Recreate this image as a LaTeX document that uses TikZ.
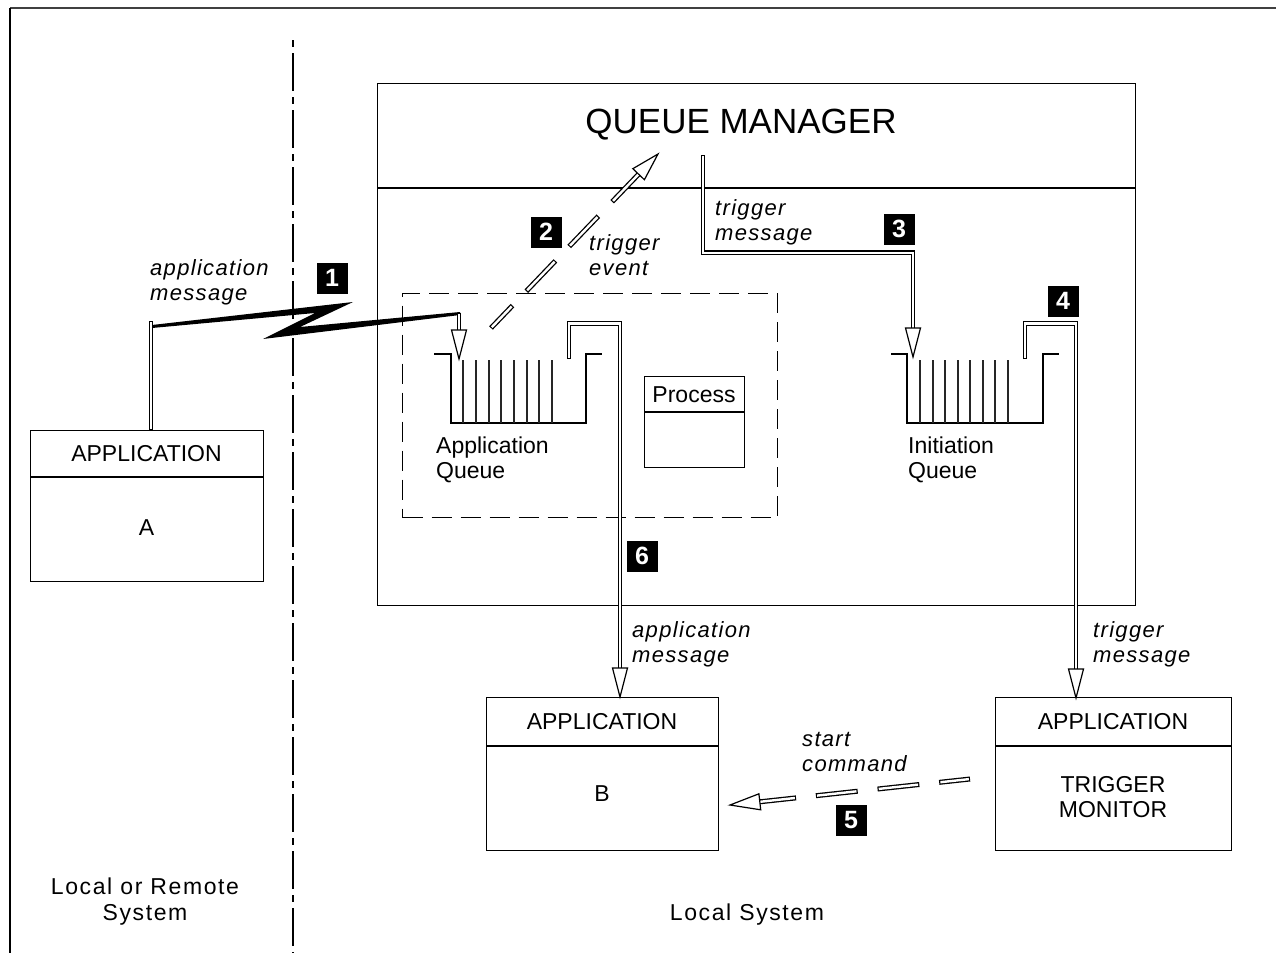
\documentclass[tikz,border=0pt]{standalone}
\usepackage{fontspec}
\setmainfont{Liberation Sans}
\newfontfamily\slfont{Liberation Sans}[LetterSpace=6]
\newfontfamily\widefont{Liberation Sans}[LetterSpace=7]
\usetikzlibrary{calc}

\tikzset{
  box/.style={draw, line width=1.4pt},
  plain/.style={font=\fontsize{23}{25}\selectfont, inner sep=0pt},
  wide/.style={font=\widefont\fontsize{23}{26}\selectfont, inner sep=0pt, align=center, anchor=base},
  lbl/.style={font=\slfont\itshape\fontsize{22}{25}\selectfont, align=left, inner sep=0pt, anchor=base west},
  badge/.style={fill=black, text=white, font=\bfseries\fontsize{25}{25}\selectfont, minimum size=31pt, inner sep=0pt},
  wall/.style={line width=1.5pt, line join=miter},
  slot/.style={line width=1.2pt, draw=black!85},
  pipe/.style={line width=4.6pt, line join=miter,
    postaction={draw=white, line width=2.2pt, shorten <=1.2pt, shorten >=1.2pt}},
  dpipe/.style={line width=5pt, dash pattern=on 42pt off 20pt, dash phase=11pt,
    postaction={draw=white, line width=2.4pt, dash pattern=on 39.6pt off 22.4pt,
      dash phase=11pt, shorten <=1.2pt}},
  head/.style={draw, fill=white, line width=1.2pt, line join=miter},
}
\newcommand\headdown[1]{\draw[head] #1 -- ++(-7.5,-29) -- ++(15,0) -- cycle;}

\begin{document}
\begin{tikzpicture}[x=1pt,y=-1pt]
\useasboundingbox (0,0) rectangle (1276,953);

% outer frame and system divider
\draw[line width=2.5pt, draw=black!75] (1276,8) -- (10,8);
\draw[line width=1.5pt] (10,8) -- (10,953);
\draw[line width=1.6pt, dash pattern=on 7pt off 6pt on 38pt off 6pt] (293,40) -- (293,953);

% queue manager
\node[box, anchor=north west, minimum width=758pt, minimum height=522pt] (qm) at (377,83) {};
\draw[box] (qm.west |- 0,188) -- (qm.east |- 0,188);
\node[plain, font=\fontsize{35}{35}\selectfont] (qmtitle) at (741,125) {QUEUE MANAGER};

% group holding the application queue and its process definition
\node[draw, line width=1.2pt, dash pattern=on 20pt off 9pt, anchor=north west,
      minimum width=375pt, minimum height=224pt] (grp) at (402,293) {};

% application queue
\draw[wall] (434,354) -- (451,354) -- (451,423) -- (586,423) -- (586,354) -- (602,354);
\foreach \x in {463,476,489,501,514,527,539,552} \draw[slot] (\x,360) -- (\x,423);
\node[plain, align=left, anchor=base west] (aqlbl) at (436,478) {Application\\Queue};

% initiation queue
\draw[wall] (891,354) -- (907,354) -- (907,423) -- (1043,423) -- (1043,354) -- (1059,354);
\foreach \x in {920,933,945,958,970,983,995,1008} \draw[slot] (\x,360) -- (\x,423);
\node[plain, align=left, anchor=base west] (iqlbl) at (908,478) {Initiation\\Queue};

% process definition
\node[box, anchor=north west, minimum width=100pt, minimum height=91pt] (proc) at (644,376) {};
\draw[box] (proc.west |- 0,412) -- (proc.east |- 0,412);
\node[plain] (proclbl) at (694,395) {Process};

% application A
\node[box, anchor=north west, minimum width=233pt, minimum height=151pt] (appA) at (30,430) {};
\draw[box] (appA.west |- 0,477) -- (appA.east |- 0,477);
\node[plain] (appAh) at (146.5,454) {APPLICATION};
\node[plain] (appAn) at (146.5,528) {A};

% application B
\node[box, anchor=north west, minimum width=232pt, minimum height=153pt] (appB) at (486,697) {};
\draw[box] (appB.west |- 0,746) -- (appB.east |- 0,746);
\node[plain] (appBh) at (602,722) {APPLICATION};
\node[plain] (appBn) at (602,794) {B};

% trigger monitor
\node[box, anchor=north west, minimum width=236pt, minimum height=153pt] (tm) at (995,697) {};
\draw[box] (tm.west |- 0,746) -- (tm.east |- 0,746);
\node[plain] (tmh) at (1113,722) {APPLICATION};
\node[plain, align=center] (tmn) at (1113,797) {TRIGGER\\MONITOR};

% (1) message from application A over the link
\coordinate (aTop) at (151,321);
\draw[pipe] (aTop) -- (aTop |- appA.north);
\fill (152,325) -- (353,302) -- (300,327) -- (460,312) -- (460,315)
      -- (263,339) -- (315,313) -- (152,328) -- cycle;
\coordinate (aqIn) at (459,313);
\coordinate (aqTip) at (459,359);
\draw[pipe] (aqIn) -- (459,332);
\headdown{(aqTip)}

% (2) trigger event
\coordinate (evStart) at (491,328);
\coordinate (evBase) at (638.6,174.2);
\coordinate (evTip) at (658,154);
\draw[dpipe] (evStart) -- (evBase);
\draw[head] (644.4,179.7) -- (evTip) -- (632.8,168.7) -- cycle;

% (3) trigger message to the initiation queue
\coordinate (tmsgOut) at (703,155);
\coordinate (iqTip) at (913,357);
\draw[pipe] (tmsgOut) -- (703,252.7) -- (913,252.7) -- (913,330);
\headdown{(iqTip)}

% (6) application message to application B
\coordinate (aqOut) at (569,359);
\coordinate (bTip) at (620,697);
\draw[pipe] (aqOut) -- (569,323.5) -- (620,323.5) -- (620,670);
\headdown{(bTip)}

% (4) trigger message to the trigger monitor
\coordinate (iqOut) at (1025,359);
\coordinate (tmTip) at (1076,698);
\draw[pipe] (iqOut) -- (1025,323.5) -- (1076,323.5) -- (1076,671);
\headdown{(tmTip)}

% (5) start command
\coordinate (scStart) at (970,779);
\coordinate (scBase) at (759.8,801.8);
\coordinate (scTip) at (730,805);
\draw[dpipe] (scStart) -- (scBase);
\draw[head] (760.7,809.8) -- (scTip) -- (758.9,793.8) -- cycle;

% step numbers
\node[badge] (n1) at (332,278) {1};
\node[badge] (n2) at (546,232) {2};
\node[badge] (n3) at (899,229) {3};
\node[badge] (n4) at (1063,301) {4};
\node[badge] (n5) at (851,820) {5};
\node[badge] (n6) at (642,556) {6};

% connector labels (anchored at the baseline of their second line)
\node[lbl] (l1) at (150,300) {application\\message};
\node[lbl] (l2) at (589,275) {trigger\\event};
\node[lbl] (l3) at (715,240) {trigger\\message};
\node[lbl] (l6) at (632,662) {application\\message};
\node[lbl] (l4) at (1093,662) {trigger\\message};
\node[lbl] (l5) at (802,771) {start\\command};

% system names
\node[wide] (remote) at (145,920) {Local or Remote\\System};
\node[wide] (local) at (747,920) {Local System};
\end{tikzpicture}
\end{document}
